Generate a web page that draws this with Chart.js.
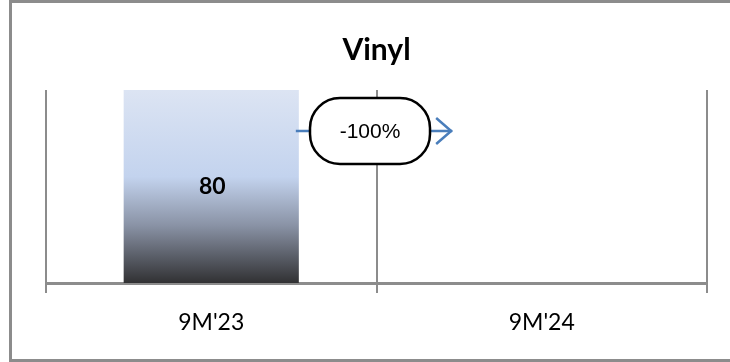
<!DOCTYPE html>
<html>
<head>
<meta charset="utf-8">
<script src="https://cdn.jsdelivr.net/npm/chart.js@4.4.1/dist/chart.umd.min.js"></script>
<style>
  html, body { margin: 0; padding: 0; background: #fff; overflow: hidden; }
  .frame { position: absolute; left: 0; top: 0; width: 730px; height: 362px; }
  .border { position: absolute; left: 9px; top: 0; width: 730px; height: 356px; border: 3px solid #8c8c8c; }
  canvas { position: absolute; left: 0; top: 0; }
</style>
</head>
<body>
<div class="frame">
  <div class="border"></div>
  <canvas id="vinyl" width="730" height="362"></canvas>
</div>
<script>
// data
const periods = ["9M'23", "9M'24"];
const vinylValues = [80, 0];
const chartTitle = 'Vinyl';
const arrowLevel = 63; // height of the change arrow, in axis units

const barFill = (ctx) => {
  const area = ctx.chart.chartArea;
  if (!area) return '#c5d5ee';
  const g = ctx.chart.ctx.createLinearGradient(0, area.top, 0, area.bottom);
  g.addColorStop(0, '#dce4f3');
  g.addColorStop(0.45, '#c3d3ee');
  g.addColorStop(0.7, '#8a93a6');
  g.addColorStop(1, '#313133');
  return g;
};

// value in the middle of the bar
const valueLabels = {
  id: 'valueLabels',
  afterDatasetsDraw(chart) {
    const { ctx } = chart;
    const meta = chart.getDatasetMeta(0);
    ctx.save();
    ctx.font = 'bold 23px Lato';
    ctx.fillStyle = '#000';
    ctx.textAlign = 'center';
    ctx.textBaseline = 'middle';
    meta.data.forEach((bar, i) => {
      if (!vinylValues[i]) return;
      ctx.fillText(vinylValues[i], bar.x + 1, (bar.y + bar.base) / 2);
    });
    ctx.restore();
  }
};

// arrow + percent change bubble
const changeArrow = {
  id: 'changeArrow',
  afterDatasetsDraw(chart) {
    const { ctx } = chart;
    const meta = chart.getDatasetMeta(0);
    const a = meta.data[0], b = meta.data[1];
    const x0 = a.x + a.width / 2 - 3;
    const x1 = b.x - b.width / 2;
    const y = chart.scales.y.getPixelForValue(arrowLevel);
    const pct = Math.round((vinylValues[1] - vinylValues[0]) / vinylValues[0] * 100);

    ctx.save();
    ctx.strokeStyle = '#4a7ebb';
    ctx.lineWidth = 2.5;
    ctx.beginPath();
    ctx.moveTo(x0, y);
    ctx.lineTo(x1 - 2, y);
    ctx.stroke();
    ctx.beginPath();
    ctx.moveTo(x1 - 18, y - 13);
    ctx.lineTo(x1 - 3, y);
    ctx.lineTo(x1 - 18, y + 13);
    ctx.stroke();

    const cx = (x0 + x1) / 2 - 5;
    const w = 120, h = 66;
    ctx.beginPath();
    ctx.roundRect(cx - w / 2, y - h / 2, w, h, 30);
    ctx.fillStyle = '#fff';
    ctx.fill();
    ctx.strokeStyle = '#000';
    ctx.lineWidth = 2.5;
    ctx.stroke();

    ctx.fillStyle = '#000';
    ctx.font = '21px "Liberation Sans"';
    ctx.textAlign = 'center';
    ctx.textBaseline = 'middle';
    ctx.fillText(pct + '%', cx, y + 1);
    ctx.restore();
  }
};

new Chart(document.getElementById('vinyl'), {
  type: 'bar',
  data: {
    labels: periods,
    datasets: [{
      data: vinylValues,
      backgroundColor: barFill,
      borderWidth: 0,
      barPercentage: 0.53,
      categoryPercentage: 1
    }]
  },
  options: {
    responsive: false,
    animation: false,
    layout: { padding: { left: 46, right: 23, top: 0, bottom: 0 } },
    plugins: {
      legend: { display: false },
      tooltip: { enabled: false },
      title: {
        display: true,
        text: chartTitle,
        color: '#000',
        font: { family: 'Lato', size: 30, weight: 'bold', lineHeight: 1.2 },
        padding: { top: 32, bottom: 22 }
      }
    },
    scales: {
      x: {
        grid: {
          offset: true,
          color: '#8c8c8c',
          lineWidth: 2,
          tickLength: 10
        },
        border: { color: '#8c8c8c', width: 3 },
        ticks: {
          color: '#000',
          padding: 16,
          font: { family: 'Lato', size: 23 }
        },
        afterFit: (scale) => { scale.height = 79; }
      },
      y: {
        display: false,
        min: 0,
        max: 80
      }
    }
  },
  plugins: [valueLabels, changeArrow]
});
</script>
</body>
</html>
